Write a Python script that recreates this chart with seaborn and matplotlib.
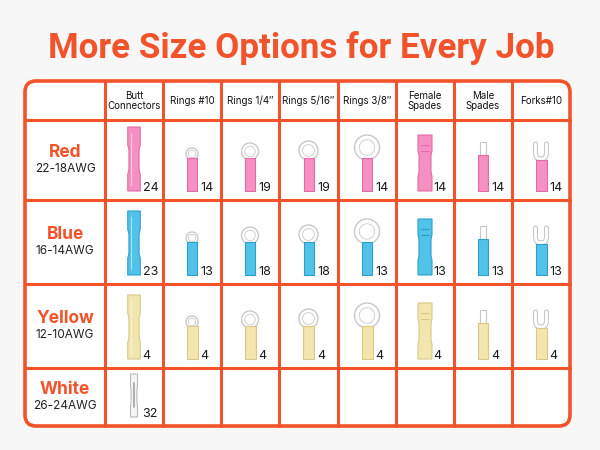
import matplotlib.pyplot as plt
import matplotlib.patches as mpatches
import seaborn as sns

# Table content
colors = ["Red", "Blue", "Yellow", "White"]
gauges = ["22-18AWG", "16-14AWG", "12-10AWG", "26-24AWG"]
types = ["Butt\nConnectors", "Rings #10", "Rings 1/4\u2033", "Rings 5/16\u2033",
         "Rings 3/8\u2033", "Female\nSpades", "Male\nSpades", "Forks#10"]
shapes = ["butt", "ring10", "ring14", "ring516", "ring38", "female", "male", "fork"]
red_counts = [24, 14, 19, 19, 14, 14, 14, 14]
blue_counts = [23, 13, 18, 18, 13, 13, 13, 13]
yellow_counts = [4, 4, 4, 4, 4, 4, 4, 4]
white_counts = [32, None, None, None, None, None, None, None]
counts = [red_counts, blue_counts, yellow_counts, white_counts]

# layout (pixels)
col_edges = [25, 105, 163, 221, 279, 338, 396, 454, 512, 570]
row_edges = [81, 120, 200, 284, 368, 426]
ORANGE = "#f2532a"
sleeve = {"Red": ("#f590c2", "#e46aa6"), "Blue": ("#52c3e8", "#2b9fcb"),
          "Yellow": ("#f2e6ae", "#d9c886"), "White": ("#f5f5f5", "#b9b9b9")}
METAL = ("#ffffff", "#c8c8c8")

sns.set_theme(style="white")
plt.rcParams['font.family'] = ['Inter', 'DejaVu Sans']

fig = plt.figure(figsize=(6, 4.5), dpi=100, facecolor="#f7f7f7")
ax = fig.add_axes([0, 0, 1, 1])
ax.set_xlim(0, 600)
ax.set_ylim(450, 0)
ax.axis("off")


def poly(pts, fc, ec, lw=0.8, z=3):
    ax.add_patch(mpatches.Polygon(pts, closed=True, fc=fc, ec=ec, lw=lw, zorder=z))


def tube(cx, yb, w, h, fc, ec, waist=0.0):
    x0, x1 = cx - w / 2, cx + w / 2
    if waist:
        d = waist
        pts = [(x0, yb), (x1, yb), (x1, yb - h * 0.26), (x1 - d, yb - h * 0.34),
               (x1 - d, yb - h * 0.64), (x1, yb - h * 0.72), (x1, yb - h),
               (x0, yb - h), (x0, yb - h * 0.72), (x0 + d, yb - h * 0.64),
               (x0 + d, yb - h * 0.34), (x0, yb - h * 0.26)]
    else:
        pts = [(x0, yb), (x1, yb), (x1, yb - h), (x0, yb - h)]
    poly(pts, fc, ec)


def outline_path(xs, ys, wide=3.6, thin=2.0):
    ax.plot(xs, ys, color=METAL[1], lw=wide, solid_capstyle="round", zorder=2)
    ax.plot(xs, ys, color="white", lw=thin, solid_capstyle="round", zorder=2)


def draw_connector(kind, cx, yb, color):
    fc, ec = sleeve[color]
    if kind == "butt":
        if color == "White":
            tube(cx, yb, 7, 43, fc, ec, waist=0.6)
            ax.plot([cx, cx], [yb - 34, yb - 10], color="#a0a0a0", lw=1.2, zorder=4)
        else:
            tube(cx, yb, 12.5, 64, fc, ec, waist=1.2)
            ax.plot([cx - 3, cx - 3], [yb - 58, yb - 6], color="white", lw=0.8,
                    alpha=0.5, zorder=4)
    elif kind.startswith("ring"):
        r = {"ring10": 6, "ring14": 8.5, "ring516": 9.5, "ring38": 12.5}[kind]
        top = yb - 33
        ax.add_patch(mpatches.Circle((cx, top - r + 2), r, fc=METAL[0], ec=METAL[1],
                                     lw=1.0, zorder=2))
        ax.add_patch(mpatches.Circle((cx, top - r + 2), r * 0.62, fc="white",
                                     ec=METAL[1], lw=0.6, zorder=2))
        w = 11 if color == "Yellow" else 10
        tube(cx, yb, w, 33, fc, ec)
    elif kind == "female":
        tube(cx, yb, 14, 56, fc, ec, waist=1.0)
        ax.plot([cx - 4, cx + 4], [yb - 46, yb - 46], color=ec, lw=0.8, zorder=4)
        ax.plot([cx - 4, cx + 4], [yb - 40, yb - 40], color=ec, lw=0.8, zorder=4)
    elif kind == "male":
        tube(cx, yb - 35, 6, 14, METAL[0], METAL[1])
        tube(cx, yb, 10, 36, fc, ec)
    elif kind == "fork":
        top = yb - 31 - 16
        outline_path([cx - 5.5, cx - 5.5, cx - 4, cx, cx + 4, cx + 5.5, cx + 5.5],
                     [top, top + 10, top + 14, top + 15, top + 14, top + 10, top])
        tube(cx, yb, 11, 31, fc, ec)


# table body
W = col_edges[-1] - col_edges[0]
H = row_edges[-1] - row_edges[0]
ax.add_patch(mpatches.FancyBboxPatch((col_edges[0], row_edges[0]), W, H,
                                     boxstyle="round,pad=0,rounding_size=11",
                                     fc="white", ec="none", zorder=0))
for x in col_edges[1:-1]:
    ax.plot([x, x], [row_edges[0], row_edges[-1]], color=ORANGE, lw=2.2, zorder=5)
for y in row_edges[1:-1]:
    ax.plot([col_edges[0], col_edges[-1]], [y, y], color=ORANGE, lw=2.2, zorder=5)
ax.add_patch(mpatches.FancyBboxPatch((col_edges[0], row_edges[0]), W, H,
                                     boxstyle="round,pad=0,rounding_size=11",
                                     fc="none", ec=ORANGE, lw=2.6, zorder=6))

# title
ax.text(301, 58, "More Size Options for Every Job", ha="center", va="baseline",
        fontsize=25.2, fontweight="bold", color=ORANGE, family=["Roboto", "DejaVu Sans"])

# header
for j, t in enumerate(types):
    cx = (col_edges[j + 1] + col_edges[j + 2]) / 2
    ax.text(cx, 101, t, ha="center", va="center", fontsize=7, color="#111111",
            linespacing=1.05)

# rows
for i, (c, g) in enumerate(zip(colors, gauges)):
    y0, y1 = row_edges[i + 1], row_edges[i + 2]
    ym = (y0 + y1) / 2
    lx = (col_edges[0] + col_edges[1]) / 2
    ax.text(lx, ym - 3, c, ha="center", va="baseline", fontsize=12.5,
            fontweight="bold", color=ORANGE)
    ax.text(lx, ym + 12, g, ha="center", va="baseline", fontsize=8.5, color="#222222")
    yb = y1 - 9
    for j, n in enumerate(counts[i]):
        if n is None:
            continue
        cx = (col_edges[j + 1] + col_edges[j + 2]) / 2
        draw_connector(shapes[j], cx, yb, c)
        ax.text(cx + 8.5, yb, str(n), ha="left", va="baseline", fontsize=9,
                color="#1a1a1a", zorder=7)

fig.savefig("out.png", dpi=100, facecolor=fig.get_facecolor())
